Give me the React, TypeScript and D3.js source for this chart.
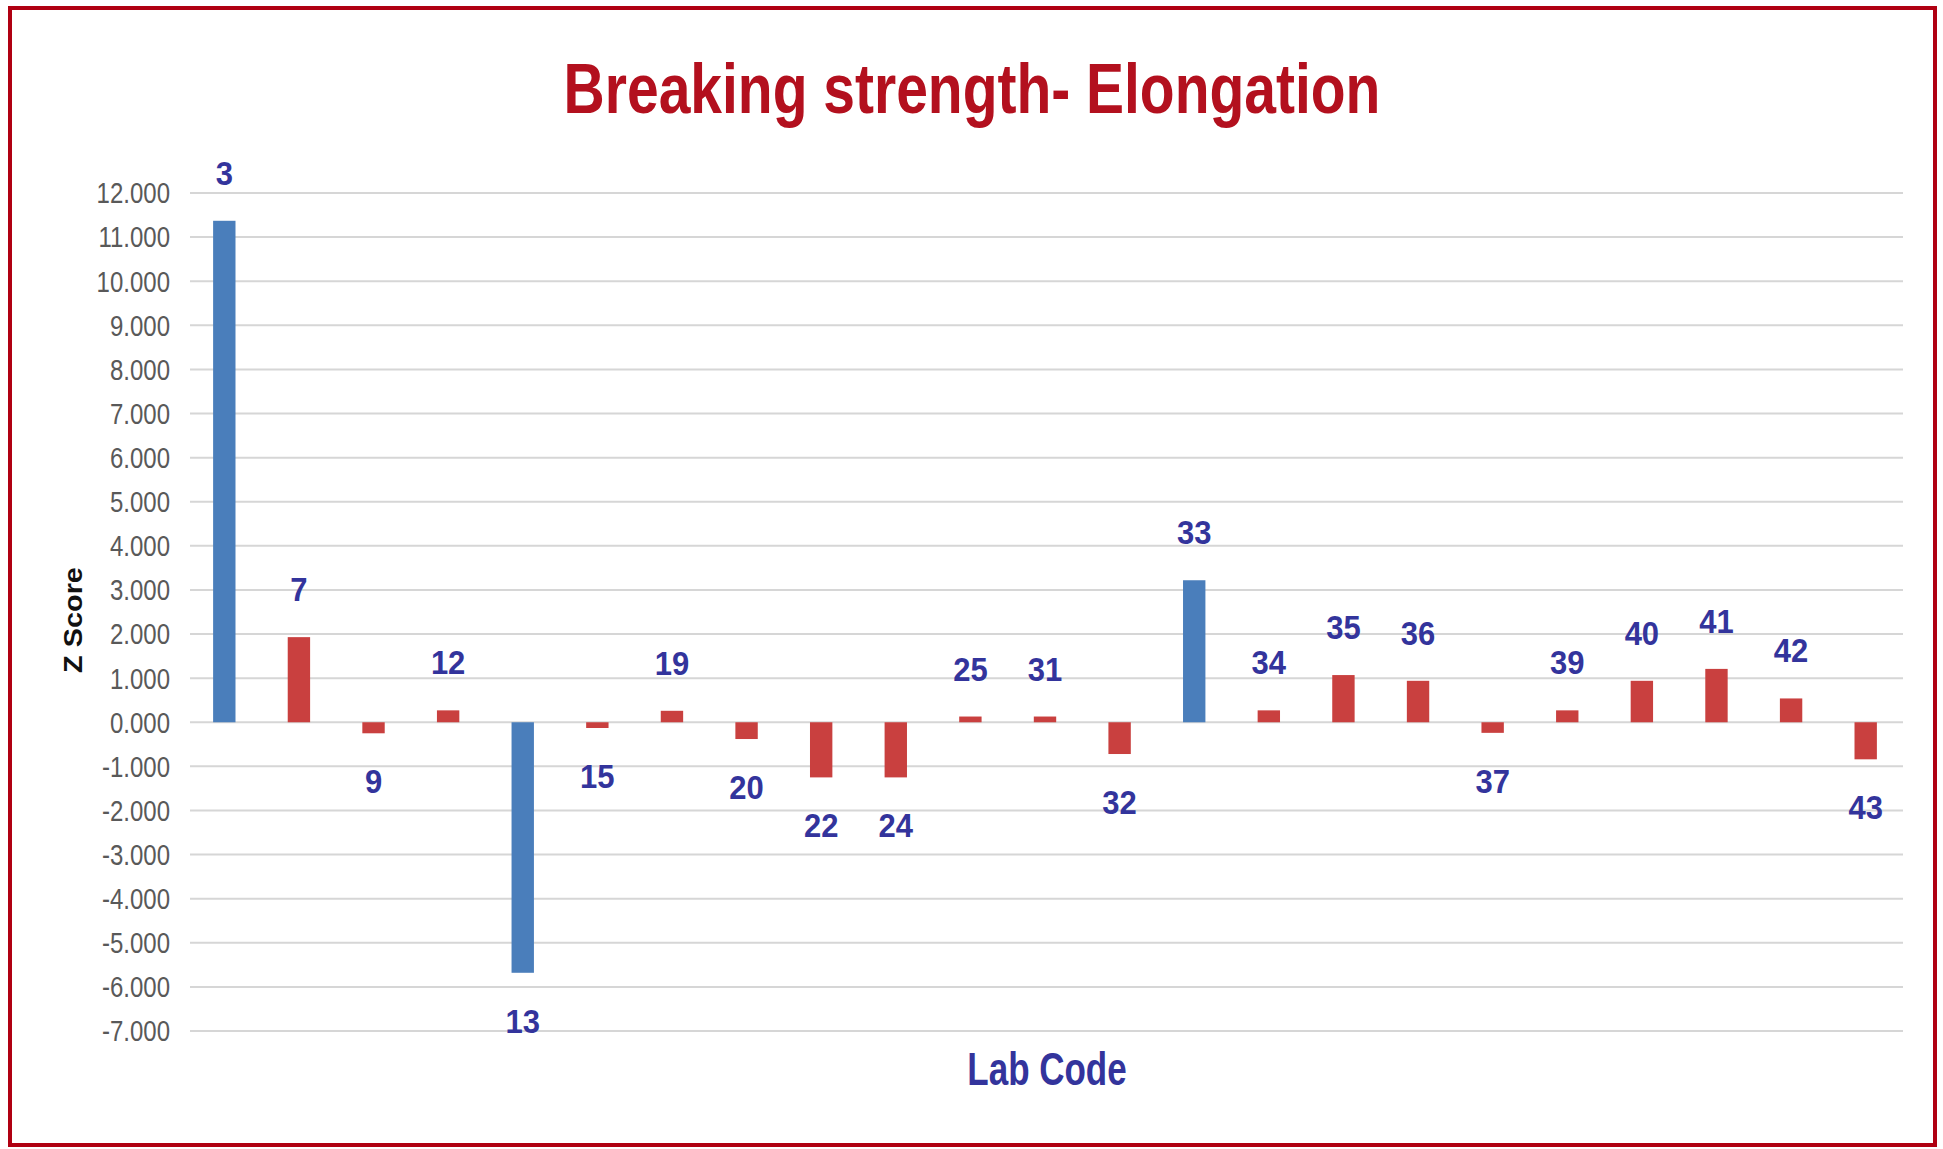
import React, { useEffect } from "react";
import * as d3 from "d3";

const labCodes = ["3", "7", "9", "12", "13", "15", "19", "20", "22", "24", "25", "31", "32", "33", "34", "35", "36", "37", "39", "40", "41", "42", "43"];
const zScores = [11.37, 1.93, -0.25, 0.27, -5.68, -0.13, 0.26, -0.38, -1.25, -1.25, 0.13, 0.13, -0.72, 3.22, 0.27, 1.07, 0.94, -0.24, 0.27, 0.94, 1.21, 0.54, -0.84];
const yTicks = [-7, -6, -5, -4, -3, -2, -1, 0, 1, 2, 3, 4, 5, 6, 7, 8, 9, 10, 11, 12];

const W = 1943;
const H = 1149;
const FONT = "'Liberation Sans', Arial, sans-serif";
const LABEL_BLUE = "#33349c";
const BAR_BLUE = "#4a7ebb";
const BAR_RED = "#c9403f";

export default function App() {
  useEffect(() => {
    document.body.style.margin = "0";
    document.body.style.overflow = "hidden";
  }, []);

  const x = d3
    .scaleBand<string>()
    .domain(labCodes)
    .range([187, 1903])
    .paddingInner(0.7)
    .paddingOuter(0.35);
  const y = d3.scaleLinear().domain([-7, 12]).range([1031, 193]);
  const fmt = (v: number) => v.toFixed(3);

  return (
    <svg
      width={W}
      height={H}
      style={{ position: "absolute", left: 0, top: 0, background: "#fff" }}
    >
      <rect x={0} y={0} width={W} height={H} fill="#fff" />
      {/* frame */}
      <rect x={10} y={8} width={1925} height={1137} fill="none" stroke="#b00012" strokeWidth={4} />

      {/* title */}
      <text
        transform={`translate(972,113) scale(1,1.25)`}
        textAnchor="middle"
        fontFamily={FONT}
        fontWeight="bold"
        fontSize={57}
        fill="#b3101e"
      >
        Breaking strength- Elongation
      </text>

      {/* gridlines */}
      {yTicks.map((t) => (
        <line
          key={"g" + t}
          x1={190}
          x2={1903}
          y1={y(t)}
          y2={y(t)}
          stroke="#d6d6d6"
          strokeWidth={2}
        />
      ))}

      {/* y tick labels */}
      {yTicks.map((t) => (
        <text
          key={"t" + t}
          transform={`translate(170,${y(t)}) scale(1,1.2)`}
          dy="0.36em"
          textAnchor="end"
          fontFamily={FONT}
          fontSize={24}
          fill="#595959"
        >
          {fmt(t)}
        </text>
      ))}

      {/* bars */}
      {labCodes.map((c, i) => {
        const v = zScores[i];
        const x0 = x(c) as number;
        const top = y(Math.max(0, v));
        const bot = y(Math.min(0, v));
        return (
          <rect
            key={"b" + c}
            x={x0}
            y={top}
            width={x.bandwidth()}
            height={bot - top}
            fill={Math.abs(v) > 3 ? BAR_BLUE : BAR_RED}
          />
        );
      })}

      {/* bar labels */}
      {labCodes.map((c, i) => {
        const v = zScores[i];
        const cx = (x(c) as number) + x.bandwidth() / 2;
        const ly = v >= 0 ? y(v) - 36 : y(v) + 60;
        return (
          <text
            key={"l" + c}
            transform={`translate(${cx},${ly}) scale(1,1.1)`}
            textAnchor="middle"
            fontFamily={FONT}
            fontWeight="bold"
            fontSize={31}
            fill={LABEL_BLUE}
          >
            {c}
          </text>
        );
      })}

      {/* axis titles */}
      <text
        transform={`translate(1047,1085) scale(1,1.3)`}
        textAnchor="middle"
        fontFamily={FONT}
        fontWeight="bold"
        fontSize={35}
        fill={LABEL_BLUE}
      >
        Lab Code
      </text>
      <text
        transform={`translate(82,620) rotate(-90) scale(1.11,1)`}
        textAnchor="middle"
        fontFamily={FONT}
        fontWeight="bold"
        fontSize={26}
        fill="#111"
      >
        Z Score
      </text>
    </svg>
  );
}
